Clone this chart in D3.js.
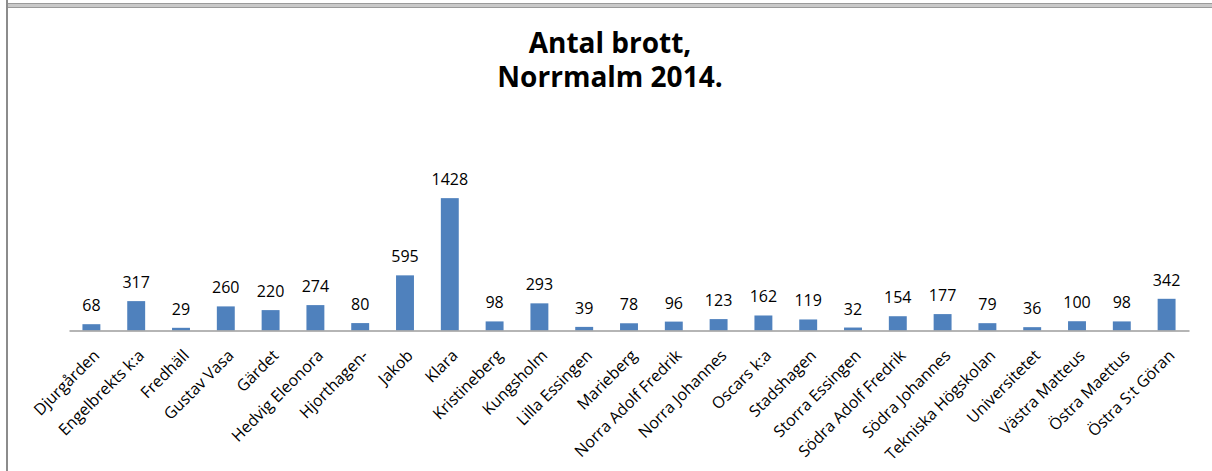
<!DOCTYPE html>
<html lang="sv">
<head>
    <meta charset="UTF-8">
    <title>Antal brott, Norrmalm 2014.</title>
    <script src="https://d3js.org/d3.v7.min.js"></script>
    <style>
        body {
            margin: 0;
            padding: 0;
            background: #fff;
            font-family: "Open Sans", "Liberation Sans", sans-serif;
        }
        svg { display: block; }
        .axis path { stroke: #9c9c9c; stroke-width: 1.6px; }
        .axis text { font-size: 16px; fill: #000; font-family: "Open Sans", sans-serif; }
        .value { font-size: 16px; fill: #000; }
        .title { font-size: 28px; font-weight: bold; fill: #000; }
    </style>
</head>
<body>
    <svg id="chart" width="1212" height="471"></svg>

    <script>
        // data
        const omraden = ["Djurgården", "Engelbrekts k:a", "Fredhäll", "Gustav Vasa", "Gärdet",
            "Hedvig Eleonora", "Hjorthagen-", "Jakob", "Klara", "Kristineberg", "Kungsholm",
            "Lilla Essingen", "Marieberg", "Norra Adolf Fredrik", "Norra Johannes", "Oscars k:a",
            "Stadshagen", "Storra Essingen", "Södra Adolf Fredrik", "Södra Johannes",
            "Tekniska Högskolan", "Universitetet", "Västra Matteus", "Östra Maettus", "Östra S:t Göran"];
        const brott = [68, 317, 29, 260, 220, 274, 80, 595, 1428, 98, 293, 39, 78, 96, 123, 162,
            119, 32, 154, 177, 79, 36, 100, 98, 342];
        const titelRader = ["Antal brott,", "Norrmalm 2014."];

        const svg = d3.select("#chart");

        // frame (sheet cell borders)
        svg.append("rect").attr("x", 6).attr("y", 3).attr("width", 1206).attr("height", 5).attr("fill", "#c9c9c9");
        svg.append("line").attr("x1", 6).attr("x2", 1212).attr("y1", 3.5).attr("y2", 3.5).attr("stroke", "#9a9a9a");
        svg.append("line").attr("x1", 6).attr("x2", 1212).attr("y1", 7.5).attr("y2", 7.5).attr("stroke", "#9a9a9a");
        svg.append("line").attr("x1", 7).attr("x2", 7).attr("y1", 0).attr("y2", 471).attr("stroke", "#8c8c8c").attr("stroke-width", 2);

        const x = d3.scaleBand()
            .domain(omraden)
            .range([69, 1189])
            .paddingInner(0.6)
            .paddingOuter(0.3);

        const y = d3.scaleLinear()
            .domain([0, 1600])
            .range([330.5, 182.2]);

        const data = omraden.map((d, i) => ({ namn: d, antal: brott[i] }));

        svg.selectAll("rect.bar")
            .data(data)
            .enter()
            .append("rect")
            .attr("class", "bar")
            .attr("x", d => x(d.namn))
            .attr("width", x.bandwidth())
            .attr("y", d => y(d.antal))
            .attr("height", d => y(0) - y(d.antal))
            .attr("fill", "#4f81bd");

        svg.selectAll("text.value")
            .data(data)
            .enter()
            .append("text")
            .attr("class", "value")
            .attr("x", d => x(d.namn) + x.bandwidth() / 2)
            .attr("y", d => y(d.antal) - 13)
            .attr("text-anchor", "middle")
            .text(d => d.antal);

        const xAxis = svg.append("g")
            .attr("class", "axis")
            .attr("transform", `translate(0, ${y(0)})`)
            .call(d3.axisBottom(x).tickSize(0).tickSizeOuter(0));

        xAxis.selectAll("text")
            .attr("text-anchor", "end")
            .attr("dy", null)
            .attr("y", null)
            .attr("transform", "translate(9, 26) rotate(-45)");

        svg.append("text")
            .attr("class", "title")
            .attr("text-anchor", "middle")
            .selectAll("tspan")
            .data(titelRader)
            .enter()
            .append("tspan")
            .attr("x", 610)
            .attr("y", (d, i) => 53 + i * 34)
            .text(d => d);
    </script>
</body>
</html>
